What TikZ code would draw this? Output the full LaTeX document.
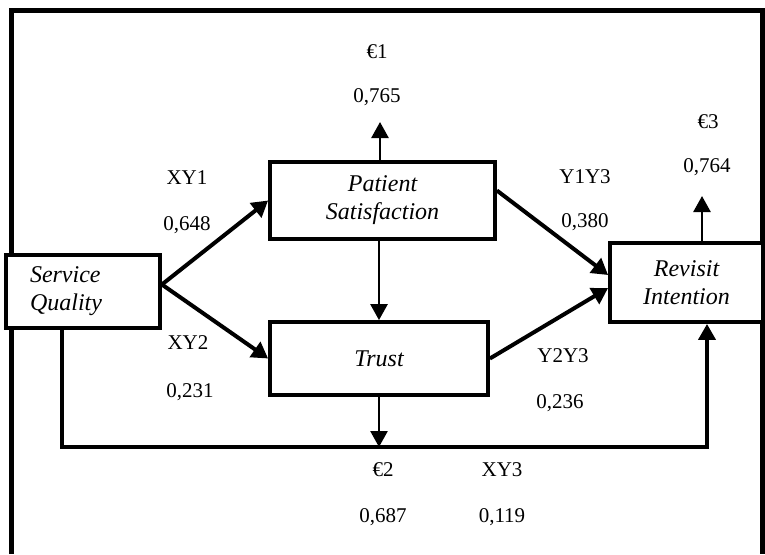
\documentclass[tikz,border=0pt]{standalone}
\usepackage{fontspec}
\setmainfont{Liberation Serif}
\usetikzlibrary{arrows.meta}
\begin{document}
\begin{tikzpicture}[x=0.5pt, y=-0.5pt,
	box/.style={draw, line width=1.9pt, fill=white, font=\itshape\fontsize{12}{14}\selectfont, align=center, inner sep=0pt},
	lbl/.style={font=\fontsize{10.5}{12}\selectfont, inner sep=1pt},
	arr/.style={line width=2pt, -{Triangle[length=8pt,width=9pt]}},
	thinarr/.style={line width=1.3pt, -{Triangle[length=8pt,width=8.5pt]}}]
		\useasboundingbox (0,0) rectangle (765,554);
		\draw[line width=2.5pt] (11,554) -- (11,10) -- (762,10) -- (762,554);
		% constructs
		\node[box, minimum width=77pt, minimum height=36.5pt, text width=53pt, align=left] (sq) at (83,291.5) {Service\\Quality};
		\node[box, minimum width=112.5pt, minimum height=38.5pt] (ps) at (382.5,200.5) {Patient\\Satisfaction};
		\node[box, minimum width=109pt, minimum height=36.5pt] (tr) at (379,358.5) {Trust};
		\node[box, minimum width=76.5pt, minimum height=39.5pt] (ri) at (686.5,282.5) {Revisit\\Intention};
		% path labels
		\node[lbl] (xy1) at (187,178) {XY1};
		\node[lbl] (vxy1) at (187,225) {0,648};
		\node[lbl] (xy2) at (188,343) {XY2};
		\node[lbl] (vxy2) at (190,392) {0,231};
		\node[lbl] (y1y3) at (585,177) {Y1Y3};
		\node[lbl] (vy1y3) at (585,222) {0,380};
		\node[lbl] (y2y3) at (563,356) {Y2Y3};
		\node[lbl] (vy2y3) at (560,403) {0,236};
		\node[lbl] (xy3) at (502,470) {XY3};
		\node[lbl] (vxy3) at (502,517) {0,119};
		\node[lbl] (e1) at (377,52) {€1};
		\node[lbl] (ve1) at (377,97) {0,765};
		\node[lbl] (e2) at (383,470) {€2};
		\node[lbl] (ve2) at (383,517) {0,687};
		\node[lbl] (e3) at (708,122) {€3};
		\node[lbl] (ve3) at (707,167) {0,764};
		\coordinate (e1tip) at (380,122);
		\coordinate (e3tip) at (702,196);
		\coordinate (base) at (379,447);
		% arrows
		\draw[arr] ([yshift=3.5pt]sq.east) -- (ps.west);
		\draw[arr] ([yshift=3.5pt]sq.east) -- (tr.west);
		\draw[thinarr] (tr.north |- ps.south) -- (tr.north);
		\draw[thinarr] (ps.north -| e1tip) -- (e1tip);
		\draw[arr] ([yshift=5pt]ps.east) -- ([yshift=3.75pt]ri.west);
		\draw[arr] (tr.east) -- ([yshift=-2.75pt]ri.west);
		\draw[thinarr] (ri.north -| e3tip) -- (e3tip);
		\draw[thinarr] (tr.south) -- (base);
		\draw[line width=1.9pt, -{Triangle[length=8pt,width=8.5pt]}] ([xshift=-10.5pt]sq.south) |- (base) -| ([xshift=10.25pt]ri.south);
	\end{tikzpicture}
\end{document}
